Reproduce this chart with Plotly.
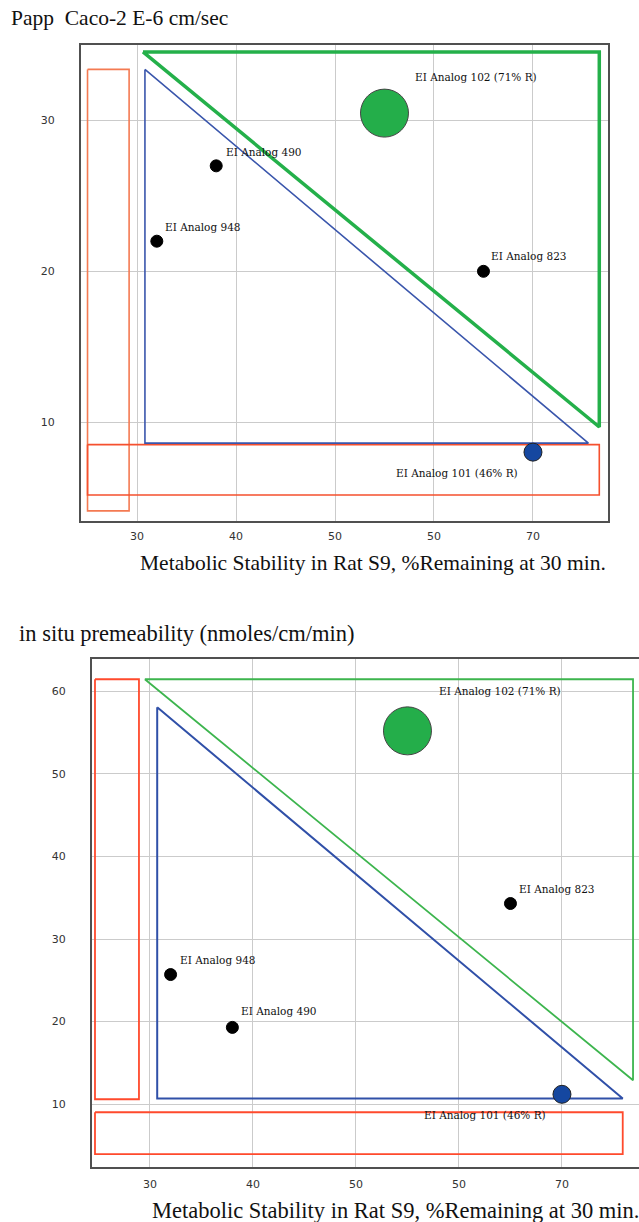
import plotly.graph_objects as go

# ---------------- data ----------------
names = ["EI Analog 102 (71% R)", "EI Analog 490", "EI Analog 948", "EI Analog 823", "EI Analog 101 (46% R)"]
stability = [55, 38, 32, 65, 70]                 # % remaining at 30 min (x)
caco2 = [30.5, 27.0, 22.0, 20.0, 8.0]            # Papp Caco-2 E-6 cm/sec (top y)
insitu = [55.2, 19.3, 25.7, 34.3, 11.2]          # in situ permeability (bottom y)

x_tick_vals = [30, 40, 50, 60, 70]
x_tick_text = ["30", "40", "50", "50", "70"]
top_y_ticks = [10, 20, 30]
bot_y_ticks = [10, 20, 30, 40, 50, 60]

# region outlines (data coordinates)
top_green_x = [30.6, 76.7, 76.7, 30.6]
top_green_y = [34.56, 34.56, 9.67, 34.56]
top_blue_x = [30.8, 30.8, 75.6, 30.8]
top_blue_y = [33.4, 8.6, 8.6, 33.4]
top_orange_tall_x = [25.0, 29.2, 29.2, 25.0, 25.0]
top_orange_tall_y = [33.4, 33.4, 4.1, 4.1, 33.4]
top_orange_wide_x = [25.0, 76.7, 76.7, 25.0, 25.0]
top_orange_wide_y = [8.5, 8.5, 5.16, 5.16, 8.5]

bot_green_x = [29.5, 76.9, 76.9, 29.5]
bot_green_y = [61.45, 61.45, 12.9, 61.45]
bot_blue_x = [30.7, 30.7, 75.9, 30.7]
bot_blue_y = [58.06, 10.7, 10.7, 58.06]
bot_orange_tall_x = [24.66, 28.93, 28.93, 24.66, 24.66]
bot_orange_tall_y = [61.45, 61.45, 10.6, 10.6, 61.45]
bot_orange_wide_x = [24.66, 75.9, 75.9, 24.66, 24.66]
bot_orange_wide_y = [9.03, 9.03, 3.95, 3.95, 9.03]

# ---------------- styles ----------------
marker_sizes = [48, 12, 12, 12, 18]
marker_colors = ["#24AE4A", "#000000", "#000000", "#000000", "#1547A0"]
marker_lines = ["#444444", "#000000", "#000000", "#000000", "#222222"]
top_label_offsets = [(29, 36, "left"), (8, 14, "left"), (6, 14, "left"), (6, 15, "left"), (-13, -21, "right")]
bot_label_offsets = [(30, 40, "left"), (7, 16, "left"), (7, 15, "left"), (7, 15, "left"), (-14, -21, "right")]

W, H = 639, 1222
SERIF = "Liberation Serif, Times New Roman, serif"
LABEL_FONT = dict(family="DejaVu Serif, serif", size=10.5, color="#111111")
TICK_FONT = dict(family="DejaVu Sans, Tahoma, sans-serif", size=11, color="#333333")

fig = go.Figure()


def outline(xs, ys, color, width, xa, ya):
    fig.add_trace(go.Scatter(x=xs, y=ys, mode="lines", line=dict(color=color, width=width),
                             hoverinfo="skip", showlegend=False, xaxis=xa, yaxis=ya))


# top chart outlines
outline(top_orange_tall_x, top_orange_tall_y, "#F47A52", 1.6, "x", "y")
outline(top_orange_wide_x, top_orange_wide_y, "#F5502E", 1.6, "x", "y")
outline(top_green_x, top_green_y, "#24B04A", 3.5, "x", "y")
outline(top_blue_x, top_blue_y, "#3A56AC", 1.6, "x", "y")

# bottom chart outlines
outline(bot_orange_tall_x, bot_orange_tall_y, "#FF4A2C", 1.8, "x2", "y2")
outline(bot_orange_wide_x, bot_orange_wide_y, "#FF4A2C", 1.8, "x2", "y2")
outline(bot_green_x, bot_green_y, "#3DB54E", 1.8, "x2", "y2")
outline(bot_blue_x, bot_blue_y, "#3050A8", 2.0, "x2", "y2")

for ys, xa, ya in [(caco2, "x", "y"), (insitu, "x2", "y2")]:
    fig.add_trace(go.Scatter(
        x=stability, y=ys, mode="markers", showlegend=False, xaxis=xa, yaxis=ya,
        text=names, hoverinfo="text",
        marker=dict(size=marker_sizes, color=marker_colors, opacity=1,
                    line=dict(color=marker_lines, width=1)),
    ))

annotations = []
for ys, offs, xr, yr in [(caco2, top_label_offsets, "x", "y"), (insitu, bot_label_offsets, "x2", "y2")]:
    for nm, xv, yv, (dx, dy, anc) in zip(names, stability, ys, offs):
        annotations.append(dict(x=xv, y=yv, xref=xr, yref=yr, text=nm, showarrow=False,
                                xanchor=anc, yanchor="middle", xshift=dx, yshift=dy,
                                font=LABEL_FONT))

# titles
annotations += [
    dict(x=9 / W, y=1 - 18 / H, xref="paper", yref="paper", xanchor="left", yanchor="middle",
         text="Papp  Caco-2 E-6 cm/sec", showarrow=False, font=dict(family=SERIF, size=21.5, color="#111")),
    dict(x=373 / W, y=1 - 563 / H, xref="paper", yref="paper", xanchor="center", yanchor="middle",
         text="Metabolic Stability in Rat S9, %Remaining at 30 min.", showarrow=False,
         font=dict(family=SERIF, size=21.5, color="#111")),
    dict(x=17 / W, y=1 - 633 / H, xref="paper", yref="paper", xanchor="left", yanchor="middle",
         text="in situ premeability (nmoles/cm/min)", showarrow=False,
         font=dict(family=SERIF, size=22.5, color="#111")),
    dict(x=150 / W, y=1 - 1210 / H, xref="paper", yref="paper", xanchor="left", yanchor="middle",
         text="Metabolic Stability in Rat S9, %Remaining at 30 min.", showarrow=False,
         font=dict(family=SERIF, size=22.5, color="#111")),
]

axis_common = dict(showgrid=True, gridcolor="#CBCBCB", gridwidth=1, zeroline=False,
                   showline=True, linecolor="#505050", linewidth=2,
                   tickfont=TICK_FONT, ticks="", fixedrange=True)

fig.update_layout(
    width=W, height=H, margin=dict(l=0, r=0, t=0, b=0),
    paper_bgcolor="white", plot_bgcolor="white", showlegend=False,
    xaxis=dict(axis_common, domain=[81 / W, 608 / W], anchor="y", range=[24.34, 77.58],
               tickvals=x_tick_vals, ticktext=x_tick_text, mirror=True, ticklabelstandoff=4),
    yaxis=dict(axis_common, domain=[1 - 521 / H, 1 - 45 / H], anchor="x", range=[3.43, 35.02],
               tickvals=top_y_ticks, mirror=True, ticklabelstandoff=22),
    xaxis2=dict(axis_common, domain=[92 / W, 1.0], anchor="y2", range=[24.37, 77.48],
                tickvals=x_tick_vals, ticktext=x_tick_text, mirror=True, ticklabelstandoff=6),
    yaxis2=dict(axis_common, domain=[1 - 1167 / H, 1 - 659 / H], anchor="x2", range=[2.4, 63.9],
                tickvals=bot_y_ticks, mirror=False, ticklabelstandoff=22),
    annotations=annotations,
)

fig.write_html("out.html", include_plotlyjs=True, config={"displayModeBar": False},
               post_script="document.body.style.margin='0';document.body.style.overflow='hidden';")
